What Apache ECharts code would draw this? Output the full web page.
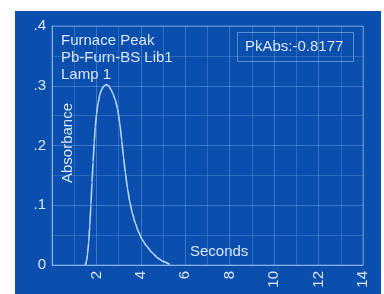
<!DOCTYPE html>
<html><head><meta charset="utf-8">
<script src="https://cdn.jsdelivr.net/npm/echarts@6/dist/echarts.min.js"></script>
<style>
html,body{margin:0;padding:0;background:#fff;width:384px;height:294px;overflow:hidden;}
#chart{position:absolute;left:15px;top:11px;width:366px;height:283px;}
</style></head>
<body><div id="chart"></div>
<script>
// Data
const seconds = [1.50,1.55,1.60,1.65,1.70,1.75,1.80,1.85,1.90,1.95,2.00,2.08,2.16,2.25,2.35,2.45,2.55,2.65,2.75,2.85,2.95,3.05,3.14,3.22,3.30,3.40,3.50,3.62,3.75,3.90,4.05,4.25,4.50,4.75,5.00,5.30];
const absorbance = [0,0.006,0.018,0.038,0.065,0.1,0.138,0.172,0.205,0.232,0.252,0.272,0.286,0.295,0.300,0.302,0.300,0.294,0.286,0.276,0.262,0.238,0.208,0.18,0.155,0.128,0.106,0.086,0.070,0.055,0.043,0.032,0.021,0.012,0.006,0.001];
const titleLines = ['Furnace Peak','Pb-Furn-BS Lib1','Lamp 1'];
const peakLabel = 'PkAbs:-0.8177';
const xName = 'Seconds';
const yName = 'Absorbance';

const txt = '#dbe6f7';
const font = 'Liberation Sans, Arial, sans-serif';
const chart = echarts.init(document.getElementById('chart'));
const gridL = 37, gridT = 15, gridR = 18, gridB = 29;
chart.setOption({
  backgroundColor: '#0a4fae',
  animation: false,
  grid: {left: gridL, top: gridT, right: gridR, bottom: gridB, show: true, borderColor: 'rgba(180,210,255,0.45)', borderWidth: 1},
  xAxis: {
    type: 'value', min: 0, max: 14, interval: 2,
    axisLine: {show: true, lineStyle: {color: 'rgba(180,210,255,0.55)'}},
    axisTick: {show: false},
    axisLabel: {color: txt, fontSize: 15, fontFamily: font, rotate: 90, margin: 6,
      formatter: v => v === 0 ? '' : String(v)},
    splitLine: {show: true, lineStyle: {color: 'rgba(170,205,255,0.3)', width: 1}},
    minorTick: {show: false, splitNumber: 2},
    minorSplitLine: {show: true, lineStyle: {color: 'rgba(170,205,255,0.22)', width: 1}}
  },
  yAxis: {
    type: 'value', min: 0, max: 0.4, interval: 0.1,
    axisLine: {show: true, lineStyle: {color: 'rgba(180,210,255,0.55)'}},
    axisTick: {show: false},
    axisLabel: {color: txt, fontSize: 15, fontFamily: font, margin: 6,
      formatter: v => v === 0 ? '0' : ('.' + Math.round(v * 10))},
    splitLine: {show: true, lineStyle: {color: 'rgba(170,205,255,0.32)', width: 1}},
    minorTick: {show: false, splitNumber: 2},
    minorSplitLine: {show: true, lineStyle: {color: 'rgba(170,205,255,0.22)', width: 1}}
  },
  series: [{
    type: 'line', smooth: 0.15, smoothMonotone: 'x', symbol: 'none',
    data: seconds.map((s, i) => [s, absorbance[i]]),
    lineStyle: {color: '#bcd6f5', width: 1.6}
  }],
  graphic: [
    {type: 'text', left: 46, top: 21, style: {text: titleLines.join('\n'), fill: txt, font: '15px ' + font, lineHeight: 17}},
    {type: 'rect', shape: {x: 222.5, y: 21.5, width: 116, height: 29}, style: {fill: 'rgba(0,0,0,0)', stroke: 'rgba(170,205,255,0.5)', lineWidth: 1}},
    {type: 'text', left: 230, top: 28, style: {text: peakLabel, fill: txt, font: '15px ' + font}},
    {type: 'text', x: 53, y: 132, rotation: Math.PI / 2, style: {text: yName, fill: txt, font: '15px ' + font, textAlign: 'center', textVerticalAlign: 'middle'}},
    {type: 'text', left: 175, top: 233, style: {text: xName, fill: txt, font: '15px ' + font}}
  ]
});
</script></body></html>
